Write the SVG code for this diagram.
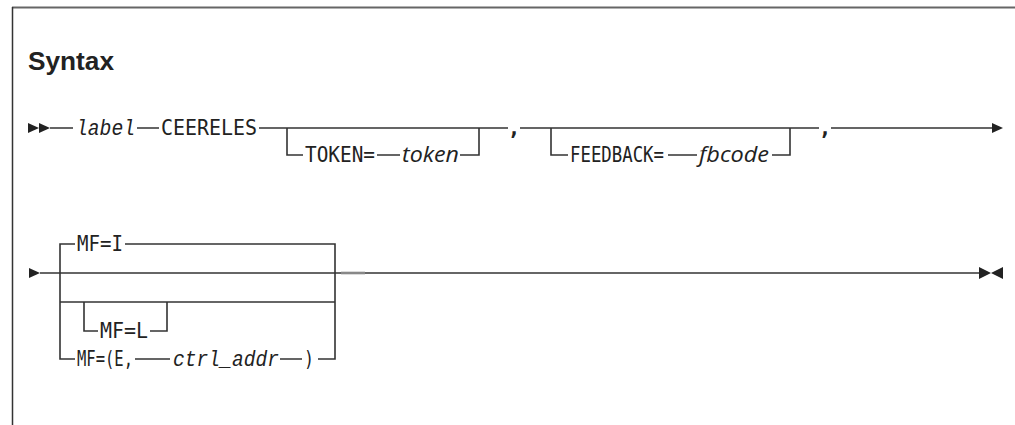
<svg xmlns="http://www.w3.org/2000/svg" width="1015" height="425" viewBox="0 0 1015 425">
<style>
.ln{stroke:#333;stroke-width:1.6;fill:none}
.ar{fill:#222}
.t{font-family:"DejaVu Sans Mono","Liberation Mono",monospace;font-size:21px;fill:#222}
.it{font-family:"Liberation Mono",monospace;font-size:22px;font-style:italic;fill:#222}
.is{font-family:"Open Sans","Liberation Sans",sans-serif;font-size:22px;font-style:italic;fill:#222}
.h{font-family:"Liberation Sans",Arial,sans-serif;font-size:25px;font-weight:bold;fill:#222}
</style>
<rect width="1015" height="425" fill="#fff"/>
<g id="frame">
<line x1="12" y1="7.5" x2="1015" y2="7.5" stroke="#666" stroke-width="2"/>
<line x1="12.5" y1="7" x2="12.5" y2="425" stroke="#333" stroke-width="1.5"/>
<text class="h" x="28" y="70" textLength="86" lengthAdjust="spacingAndGlyphs">Syntax</text>
</g>
<g id="connectors">
<path class="ln" d="M50 128H73M137 128H159M259 128H508M520 128H819M831 128H992"/>
<path class="ln" d="M287 128V155H303M377 155H400M460 155H479V128"/>
<path class="ln" d="M551 128V155H568M668 155H697M772 155H790V128"/>
<path class="ln" d="M40 273H980"/>
<line x1="341" y1="273" x2="365" y2="273" stroke="#888" stroke-width="2.6"/>
<path class="ln" d="M75 244H60V359H75M125 244H335V359H318"/>
<path class="ln" d="M60 302H335"/>
<path class="ln" d="M84 302V331H98M150 331H167V302"/>
<path class="ln" d="M135 359H170M280 359H302"/>
<polygon class="ar" points="28,123 28,133 39,128"/>
<polygon class="ar" points="39,123 39,133 50,128"/>
<polygon class="ar" points="992,123 992,133 1003,128"/>
<polygon class="ar" points="29,268 29,278 40,273"/>
<polygon class="ar" points="979,267 979,279 991,273"/>
<polygon class="ar" points="1003,267 1003,279 991,273"/>
</g>
<g id="node-label"><text class="it" x="76" y="135" textLength="59" lengthAdjust="spacingAndGlyphs">label</text></g>
<g id="node-ceereles"><text class="t" x="161" y="135" textLength="96" lengthAdjust="spacingAndGlyphs">CEERELES</text></g>
<g id="node-token">
<text class="t" x="305" y="162" textLength="70" lengthAdjust="spacingAndGlyphs">TOKEN=</text>
<text class="is" x="402" y="162" textLength="57" lengthAdjust="spacingAndGlyphs">token</text>
</g>
<g id="node-comma1"><text class="t" x="514" y="135" text-anchor="middle" font-weight="bold">,</text></g>
<g id="node-feedback">
<text class="t" x="570" y="162" textLength="94" lengthAdjust="spacingAndGlyphs">FEEDBACK=</text>
<text class="is" x="699" y="162" textLength="70" lengthAdjust="spacingAndGlyphs">fbcode</text>
</g>
<g id="node-comma2"><text class="t" x="825" y="135" text-anchor="middle" font-weight="bold">,</text></g>
<g id="node-mfi"><text class="t" x="77" y="251" textLength="46" lengthAdjust="spacingAndGlyphs">MF=I</text></g>
<g id="node-mfl"><text class="t" x="100" y="338" textLength="48" lengthAdjust="spacingAndGlyphs">MF=L</text></g>
<g id="node-mfe">
<text class="t" x="77" y="366" textLength="56" lengthAdjust="spacingAndGlyphs">MF=(E,</text>
<text class="it" x="173" y="366" textLength="106" lengthAdjust="spacingAndGlyphs">ctrl_addr</text>
<text class="t" x="304" y="366" textLength="10" lengthAdjust="spacingAndGlyphs">)</text>
</g>
</svg>
